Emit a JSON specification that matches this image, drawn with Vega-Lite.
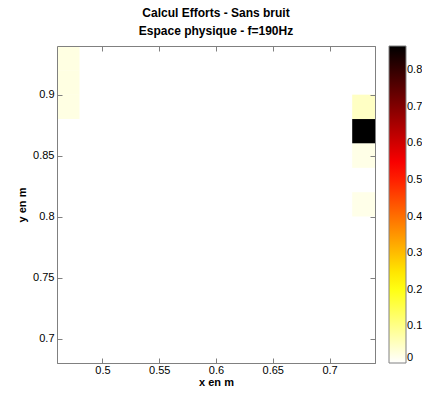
{
 "$schema": "https://vega.github.io/schema/vega-lite/v6.json",
 "width": 318,
 "height": 317,
 "autosize": {"type": "none"},
 "padding": {"left": 57, "top": 46, "right": 47, "bottom": 38},
 "background": "white",
 "title": {"text": ["Calcul Efforts - Sans bruit", "Espace physique - f=190Hz"], "font": "Liberation Sans", "fontSize": 12, "fontWeight": "bold", "lineHeight": 18, "offset": 8, "color": "black"},
 "config": {
  "view": {"stroke": "#808080", "strokeWidth": 1},
  "axis": {"domain": true, "domainColor": "#808080", "domainWidth": 1, "tickColor": "#808080", "ticks": true, "tickWidth": 1, "tickSize": -5, "labelFont": "Liberation Sans", "labelFontSize": 11, "labelColor": "black", "titleFont": "Liberation Sans", "titleFontSize": 11, "titleFontWeight": "bold", "titleColor": "black", "grid": false}
 },
 "data": {"values": [
  {"x":0.47,"y":0.93,"v":0.025},{"x":0.49,"y":0.93,"v":0},{"x":0.51,"y":0.93,"v":0},{"x":0.53,"y":0.93,"v":0},{"x":0.55,"y":0.93,"v":0},{"x":0.57,"y":0.93,"v":0},{"x":0.59,"y":0.93,"v":0},{"x":0.61,"y":0.93,"v":0},{"x":0.63,"y":0.93,"v":0},{"x":0.65,"y":0.93,"v":0},{"x":0.67,"y":0.93,"v":0},{"x":0.69,"y":0.93,"v":0},{"x":0.71,"y":0.93,"v":0},{"x":0.73,"y":0.93,"v":0},
  {"x":0.47,"y":0.91,"v":0.025},{"x":0.49,"y":0.91,"v":0},{"x":0.51,"y":0.91,"v":0},{"x":0.53,"y":0.91,"v":0},{"x":0.55,"y":0.91,"v":0},{"x":0.57,"y":0.91,"v":0},{"x":0.59,"y":0.91,"v":0},{"x":0.61,"y":0.91,"v":0},{"x":0.63,"y":0.91,"v":0},{"x":0.65,"y":0.91,"v":0},{"x":0.67,"y":0.91,"v":0},{"x":0.69,"y":0.91,"v":0},{"x":0.71,"y":0.91,"v":0},{"x":0.73,"y":0.91,"v":0},
  {"x":0.47,"y":0.89,"v":0.024},{"x":0.49,"y":0.89,"v":0},{"x":0.51,"y":0.89,"v":0},{"x":0.53,"y":0.89,"v":0},{"x":0.55,"y":0.89,"v":0},{"x":0.57,"y":0.89,"v":0},{"x":0.59,"y":0.89,"v":0},{"x":0.61,"y":0.89,"v":0},{"x":0.63,"y":0.89,"v":0},{"x":0.65,"y":0.89,"v":0},{"x":0.67,"y":0.89,"v":0},{"x":0.69,"y":0.89,"v":0},{"x":0.71,"y":0.89,"v":0},{"x":0.73,"y":0.89,"v":0.05},
  {"x":0.47,"y":0.87,"v":0},{"x":0.49,"y":0.87,"v":0},{"x":0.51,"y":0.87,"v":0},{"x":0.53,"y":0.87,"v":0},{"x":0.55,"y":0.87,"v":0},{"x":0.57,"y":0.87,"v":0},{"x":0.59,"y":0.87,"v":0},{"x":0.61,"y":0.87,"v":0},{"x":0.63,"y":0.87,"v":0},{"x":0.65,"y":0.87,"v":0},{"x":0.67,"y":0.87,"v":0},{"x":0.69,"y":0.87,"v":0},{"x":0.71,"y":0.87,"v":0},{"x":0.73,"y":0.87,"v":0.866},
  {"x":0.47,"y":0.85,"v":0},{"x":0.49,"y":0.85,"v":0},{"x":0.51,"y":0.85,"v":0},{"x":0.53,"y":0.85,"v":0},{"x":0.55,"y":0.85,"v":0},{"x":0.57,"y":0.85,"v":0},{"x":0.59,"y":0.85,"v":0},{"x":0.61,"y":0.85,"v":0},{"x":0.63,"y":0.85,"v":0},{"x":0.65,"y":0.85,"v":0},{"x":0.67,"y":0.85,"v":0},{"x":0.69,"y":0.85,"v":0},{"x":0.71,"y":0.85,"v":0},{"x":0.73,"y":0.85,"v":0.02},
  {"x":0.47,"y":0.83,"v":0},{"x":0.49,"y":0.83,"v":0},{"x":0.51,"y":0.83,"v":0},{"x":0.53,"y":0.83,"v":0},{"x":0.55,"y":0.83,"v":0},{"x":0.57,"y":0.83,"v":0},{"x":0.59,"y":0.83,"v":0},{"x":0.61,"y":0.83,"v":0},{"x":0.63,"y":0.83,"v":0},{"x":0.65,"y":0.83,"v":0},{"x":0.67,"y":0.83,"v":0},{"x":0.69,"y":0.83,"v":0},{"x":0.71,"y":0.83,"v":0},{"x":0.73,"y":0.83,"v":0},
  {"x":0.47,"y":0.81,"v":0},{"x":0.49,"y":0.81,"v":0},{"x":0.51,"y":0.81,"v":0},{"x":0.53,"y":0.81,"v":0},{"x":0.55,"y":0.81,"v":0},{"x":0.57,"y":0.81,"v":0},{"x":0.59,"y":0.81,"v":0},{"x":0.61,"y":0.81,"v":0},{"x":0.63,"y":0.81,"v":0},{"x":0.65,"y":0.81,"v":0},{"x":0.67,"y":0.81,"v":0},{"x":0.69,"y":0.81,"v":0},{"x":0.71,"y":0.81,"v":0},{"x":0.73,"y":0.81,"v":0.019},
  {"x":0.47,"y":0.79,"v":0},{"x":0.49,"y":0.79,"v":0},{"x":0.51,"y":0.79,"v":0},{"x":0.53,"y":0.79,"v":0},{"x":0.55,"y":0.79,"v":0},{"x":0.57,"y":0.79,"v":0},{"x":0.59,"y":0.79,"v":0},{"x":0.61,"y":0.79,"v":0},{"x":0.63,"y":0.79,"v":0},{"x":0.65,"y":0.79,"v":0},{"x":0.67,"y":0.79,"v":0},{"x":0.69,"y":0.79,"v":0},{"x":0.71,"y":0.79,"v":0},{"x":0.73,"y":0.79,"v":0},
  {"x":0.47,"y":0.77,"v":0},{"x":0.49,"y":0.77,"v":0},{"x":0.51,"y":0.77,"v":0},{"x":0.53,"y":0.77,"v":0},{"x":0.55,"y":0.77,"v":0},{"x":0.57,"y":0.77,"v":0},{"x":0.59,"y":0.77,"v":0},{"x":0.61,"y":0.77,"v":0},{"x":0.63,"y":0.77,"v":0},{"x":0.65,"y":0.77,"v":0},{"x":0.67,"y":0.77,"v":0},{"x":0.69,"y":0.77,"v":0},{"x":0.71,"y":0.77,"v":0},{"x":0.73,"y":0.77,"v":0},
  {"x":0.47,"y":0.75,"v":0},{"x":0.49,"y":0.75,"v":0},{"x":0.51,"y":0.75,"v":0},{"x":0.53,"y":0.75,"v":0},{"x":0.55,"y":0.75,"v":0},{"x":0.57,"y":0.75,"v":0},{"x":0.59,"y":0.75,"v":0},{"x":0.61,"y":0.75,"v":0},{"x":0.63,"y":0.75,"v":0},{"x":0.65,"y":0.75,"v":0},{"x":0.67,"y":0.75,"v":0},{"x":0.69,"y":0.75,"v":0},{"x":0.71,"y":0.75,"v":0},{"x":0.73,"y":0.75,"v":0},
  {"x":0.47,"y":0.73,"v":0},{"x":0.49,"y":0.73,"v":0},{"x":0.51,"y":0.73,"v":0},{"x":0.53,"y":0.73,"v":0},{"x":0.55,"y":0.73,"v":0},{"x":0.57,"y":0.73,"v":0},{"x":0.59,"y":0.73,"v":0},{"x":0.61,"y":0.73,"v":0},{"x":0.63,"y":0.73,"v":0},{"x":0.65,"y":0.73,"v":0},{"x":0.67,"y":0.73,"v":0},{"x":0.69,"y":0.73,"v":0},{"x":0.71,"y":0.73,"v":0},{"x":0.73,"y":0.73,"v":0},
  {"x":0.47,"y":0.71,"v":0},{"x":0.49,"y":0.71,"v":0},{"x":0.51,"y":0.71,"v":0},{"x":0.53,"y":0.71,"v":0},{"x":0.55,"y":0.71,"v":0},{"x":0.57,"y":0.71,"v":0},{"x":0.59,"y":0.71,"v":0},{"x":0.61,"y":0.71,"v":0},{"x":0.63,"y":0.71,"v":0},{"x":0.65,"y":0.71,"v":0},{"x":0.67,"y":0.71,"v":0},{"x":0.69,"y":0.71,"v":0},{"x":0.71,"y":0.71,"v":0},{"x":0.73,"y":0.71,"v":0},
  {"x":0.47,"y":0.69,"v":0},{"x":0.49,"y":0.69,"v":0},{"x":0.51,"y":0.69,"v":0},{"x":0.53,"y":0.69,"v":0},{"x":0.55,"y":0.69,"v":0},{"x":0.57,"y":0.69,"v":0},{"x":0.59,"y":0.69,"v":0},{"x":0.61,"y":0.69,"v":0},{"x":0.63,"y":0.69,"v":0},{"x":0.65,"y":0.69,"v":0},{"x":0.67,"y":0.69,"v":0},{"x":0.69,"y":0.69,"v":0},{"x":0.71,"y":0.69,"v":0},{"x":0.73,"y":0.69,"v":0}
 ]},
 "layer": [
  {
   "mark": {"type": "rect", "width": 22.9, "height": 24.6},
   "encoding": {
    "x": {"field": "x", "type": "quantitative", "scale": {"domain": [0.46, 0.74], "nice": false, "zero": false}, "axis": {"orient": "bottom", "zindex": 2, "title": "x en m", "values": [0.5, 0.55, 0.6, 0.65, 0.7], "format": "~g", "labelPadding": 6, "titlePadding": 1}},
    "y": {"field": "y", "type": "quantitative", "scale": {"domain": [0.68, 0.94], "nice": false, "zero": false}, "axis": {"orient": "left", "zindex": 2, "title": "y en m", "values": [0.7, 0.75, 0.8, 0.85, 0.9], "format": "~g", "labelPadding": 8, "titlePadding": 5}},
    "color": {"field": "v", "type": "quantitative", "scale": {"domain": [0, 0.2165, 0.5413, 0.866], "range": ["#ffffff", "#ffff00", "#ff0000", "#000000"], "interpolate": "rgb"},
     "legend": {"title": null, "type": "gradient", "direction": "vertical", "gradientLength": 317, "gradientThickness": 17, "offset": 13, "padding": 0, "values": [0, 0.1, 0.2, 0.3, 0.4, 0.5, 0.6, 0.7, 0.8], "format": "~g", "labelFont": "Liberation Sans", "labelFontSize": 11, "labelColor": "black", "labelOffset": 1, "gradientStrokeColor": "#808080", "gradientStrokeWidth": 1}}
   }
  },
  {
   "mark": {"type": "rect", "width": 22.9, "height": 24.6, "opacity": 0},
   "encoding": {
    "x": {"field": "x", "type": "quantitative", "axis": {"orient": "top", "zindex": 2, "title": null, "labels": false, "values": [0.5, 0.55, 0.6, 0.65, 0.7]}},
    "y": {"field": "y", "type": "quantitative", "axis": {"orient": "right", "zindex": 2, "title": null, "labels": false, "values": [0.7, 0.75, 0.8, 0.85, 0.9]}}
   }
  }
 ],
 "resolve": {"axis": {"x": "independent", "y": "independent"}}
}
